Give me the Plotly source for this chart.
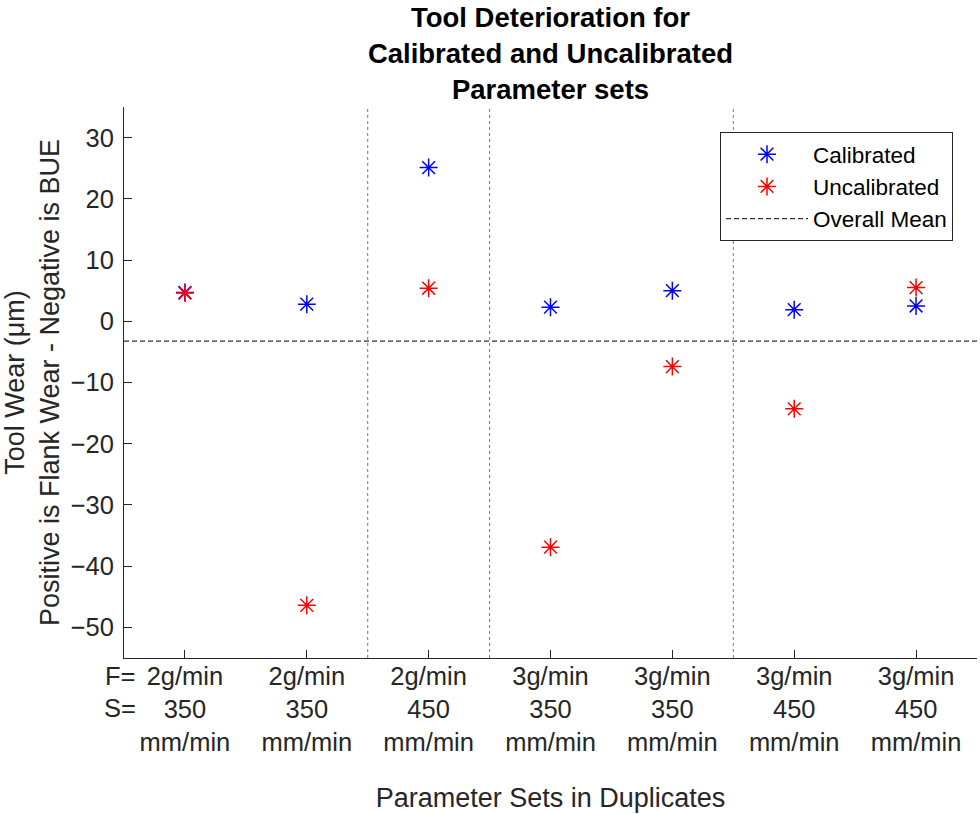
import plotly.graph_objects as go

# Parameter sets (feed rate F, spindle speed S), each run in duplicate
feed_rates = ["2g/min", "2g/min", "2g/min", "3g/min", "3g/min", "3g/min", "3g/min"]
speeds = ["350", "350", "450", "350", "350", "450", "450"]
set_index = [1, 2, 3, 4, 5, 6, 7]

# Measured tool wear (µm); positive = flank wear, negative = built-up edge
calibrated = [4.7, 2.8, 25.1, 2.3, 5.0, 1.9, 2.5]
uncalibrated = [4.6, -46.4, 5.4, -36.9, -7.4, -14.3, 5.5]

# Boundaries between groups of parameter sets
group_bounds = [2.5, 3.5, 5.5]

y_ticks = [-50, -40, -30, -20, -10, 0, 10, 20, 30]
x_range = [0.5, 7.5]
y_range = [-55, 35]

overall_mean = sum(calibrated + uncalibrated) / (len(calibrated) + len(uncalibrated))

FONT = "Liberation Sans, Arial, Helvetica, sans-serif"
AXIS_COLOR = "#262626"

tick_text = [f"{f}<br>{s}<br>mm/min" for f, s in zip(feed_rates, speeds)]

fig = go.Figure()

fig.add_trace(go.Scatter(
    x=set_index, y=calibrated, mode="markers", name="Calibrated",
    marker=dict(symbol="asterisk-open", size=15, color="#0000ff",
                line=dict(color="#0000ff", width=1.5)),
))
fig.add_trace(go.Scatter(
    x=set_index, y=uncalibrated, mode="markers", name="Uncalibrated",
    marker=dict(symbol="asterisk-open", size=15, color="#ff0000",
                line=dict(color="#ff0000", width=1.5)),
))
fig.add_trace(go.Scatter(
    x=x_range, y=[overall_mean, overall_mean], mode="lines", name="Overall Mean",
    line=dict(color="#333333", width=1.2, dash="5px,3px"),
))

for xb in group_bounds:
    fig.add_shape(type="line", xref="x", yref="paper", x0=xb, x1=xb, y0=0, y1=1,
                  line=dict(color="#777777", width=1, dash="dot"), layer="below")

# Row labels for the multi-line tick text
for txt, dy in [("F=", -18), ("S=", -50)]:
    fig.add_annotation(text=txt, xref="paper", yref="paper", x=0, y=0,
                       xshift=-4, yshift=dy, xanchor="center", yanchor="middle",
                       showarrow=False, font=dict(family=FONT, size=25.5, color=AXIS_COLOR))

fig.update_layout(
    width=980, height=814,
    margin=dict(l=124, r=3, t=107, b=156),
    paper_bgcolor="white", plot_bgcolor="white",
    font=dict(family=FONT, color=AXIS_COLOR),
    title=dict(
        text="<b>Tool Deterioration for</b><br><b>Calibrated and Uncalibrated</b><br><b>Parameter sets</b>",
        x=0.5, xref="paper", xanchor="center",
        y=1 - 27 / 814, yref="container", yanchor="middle",
        font=dict(family=FONT, size=27.5, color="black"),
    ),
    xaxis=dict(
        range=x_range, tickmode="array", tickvals=set_index, ticktext=tick_text,
        ticks="inside", ticklen=8, tickcolor=AXIS_COLOR, tickwidth=1,
        showline=True, linecolor=AXIS_COLOR, linewidth=1, mirror=False,
        showgrid=False, zeroline=False, ticklabelstandoff=-5,
        tickfont=dict(family=FONT, size=25.5, color=AXIS_COLOR),
        title=dict(text="Parameter Sets in Duplicates", standoff=33,
                   font=dict(family=FONT, size=27, color=AXIS_COLOR)),
    ),
    yaxis=dict(
        range=y_range, tickmode="array", tickvals=y_ticks,
        ticks="inside", ticklen=8, tickcolor=AXIS_COLOR, tickwidth=1,
        showline=True, linecolor=AXIS_COLOR, linewidth=1, mirror=False,
        showgrid=False, zeroline=False, ticklabelstandoff=4,
        tickfont=dict(family=FONT, size=25.5, color=AXIS_COLOR),
        title=dict(text="Tool Wear (μm)<br>Positive is Flank Wear - Negative is BUE",
                   standoff=5, font=dict(family=FONT, size=27, color=AXIS_COLOR)),
    ),
    legend=dict(
        x=(953 - 124) / 853, y=0.9546, xanchor="right", yanchor="top",
        bgcolor="white", bordercolor=AXIS_COLOR, borderwidth=1,
        itemwidth=82,
        font=dict(family=FONT, size=22.5, color="black"),
    ),
    showlegend=True,
)

fig.write_html("out.html")
